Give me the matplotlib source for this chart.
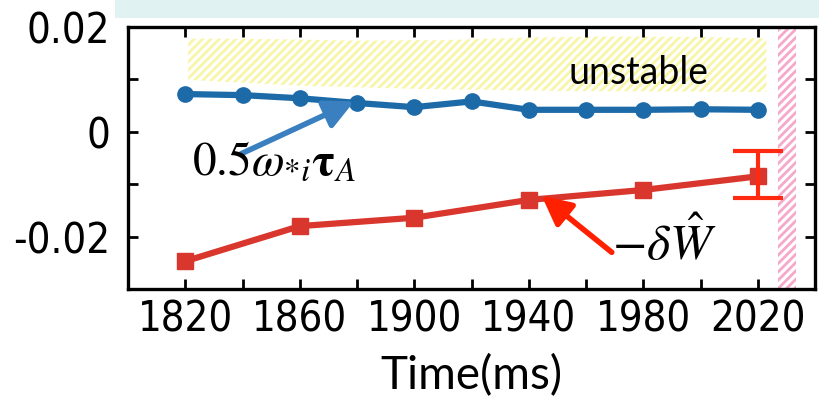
import matplotlib
matplotlib.use("Agg")
import matplotlib.pyplot as plt
from matplotlib.patches import Polygon, Rectangle
import numpy as np

# ---- data ----
time_blue = [1820, 1840, 1860, 1880, 1900, 1920, 1940, 1960, 1980, 2000, 2020]
omega_tau = [0.0072, 0.0070, 0.0064, 0.0055, 0.0047, 0.0058, 0.0042, 0.0042, 0.0042, 0.0043, 0.0042]
time_red = [1820, 1860, 1900, 1940, 1980, 2020]
neg_dW = [-0.0247, -0.0180, -0.0164, -0.0130, -0.0111, -0.0085]
err_x = [2020]
err_y = [-0.0085]
err_lo = [0.0041]
err_hi = [0.0048]
xticks_major = [1820, 1860, 1900, 1940, 1980, 2020]
xtick_labels = ["1820", "1860", "1900", "1940", "1980", "2020"]
yticks_major = [-0.02, 0.0, 0.02]
ytick_labels = ["-0.02", "0", "0.02"]
unstable_x = [1821, 1850, 1880, 1910, 1940, 1970, 2000, 2023, 2023, 1990, 1950, 1900, 1860, 1821]
unstable_y = [0.0178, 0.0177, 0.0174, 0.0175, 0.0180, 0.0182, 0.0181, 0.0178, 0.0076, 0.0077, 0.0078, 0.0082, 0.0088, 0.0099]

plt.rcParams['mathtext.fontset'] = 'stix'
plt.rcParams['hatch.linewidth'] = 2.0

fig = plt.figure(figsize=(8.19, 4.05), dpi=100)
fig.patch.set_facecolor('white')
# light cyan strip at top
fig.patches.append(Rectangle((115/819, 1-18/405), 1, 18/405, transform=fig.transFigure,
                             facecolor='#e1f2f2', edgecolor='none', zorder=0))

ax = fig.add_axes([128/819, 1-289/405, (815-128)/819, (289-27)/405])
ax.set_xlim(1800, 2040)
ax.set_ylim(-0.03, 0.02)

# unstable region
ax.add_patch(Polygon(np.column_stack([unstable_x, unstable_y]), closed=True,
                     facecolor='white', edgecolor='#f9f5a8', hatch='////', lw=0, zorder=1))
# pink band
ax.axvspan(2027, 2033.3, facecolor='white', edgecolor='#f6a8cb', hatch='////', lw=0, zorder=1)

ax.plot(time_blue, omega_tau, color='#1d6aa8', lw=4.5, marker='o', ms=11,
        markeredgecolor='#1d6aa8', zorder=3)
ax.plot(time_red, neg_dW, color='#d9372d', lw=4.5, marker='s', ms=12,
        markeredgecolor='#d9372d', zorder=3)
ax.errorbar(err_x, err_y, yerr=[err_lo, err_hi], fmt='none', ecolor='#ff2a10',
            elinewidth=3, capsize=18, capthick=3, zorder=4)

# annotations
ax.annotate('', xy=(1879, 0.0058), xytext=(1839.5, -0.0042),
            arrowprops=dict(arrowstyle='-|>', color='#3a7fbf', lw=4, mutation_scale=44,
                            shrinkA=0, shrinkB=0), zorder=5)
ax.annotate('', xy=(1944.5, -0.0122), xytext=(1969, -0.0230),
            arrowprops=dict(arrowstyle='-|>', color='#ff2000', lw=4, mutation_scale=44,
                            shrinkA=0, shrinkB=0), zorder=5)
ax.text(1851, -0.0058, r'$0.5\omega_{*i}\mathbf{\tau}_A$', fontsize=34, ha='center', va='center', zorder=6)
ax.text(1969, -0.0213, r'$-\delta\hat{W}$', fontsize=36, ha='left', va='center', zorder=6)
ax.text(1978.5, 0.0112, 'unstable', fontsize=27, ha='center', va='center',
        family=['Lato', 'DejaVu Sans'], zorder=6)

# axes style
for s in ax.spines.values():
    s.set_linewidth(2.4)
ax.set_xticks(xticks_major)
ax.set_xticklabels(xtick_labels)
ax.set_xticks(np.arange(1800, 2041, 20), minor=True)
ax.set_yticks(yticks_major)
ax.set_yticklabels(ytick_labels)
ax.set_yticks(np.arange(-0.03, 0.021, 0.01), minor=True)
ax.tick_params(which='both', direction='in', top=True, right=True, length=7, width=2)
ax.tick_params(axis='x', which='major', pad=7)
ax.tick_params(axis='y', which='major', pad=13)
for lab in ax.get_xticklabels() + ax.get_yticklabels():
    lab.set_family(['DejaVu Sans'])
    lab.set_stretch('condensed')
    lab.set_fontsize(30)
ax.set_xlabel('Time(ms)', fontsize=33, family=['Lato', 'DejaVu Sans'], labelpad=10)

fig.savefig('out.png', dpi=100)
